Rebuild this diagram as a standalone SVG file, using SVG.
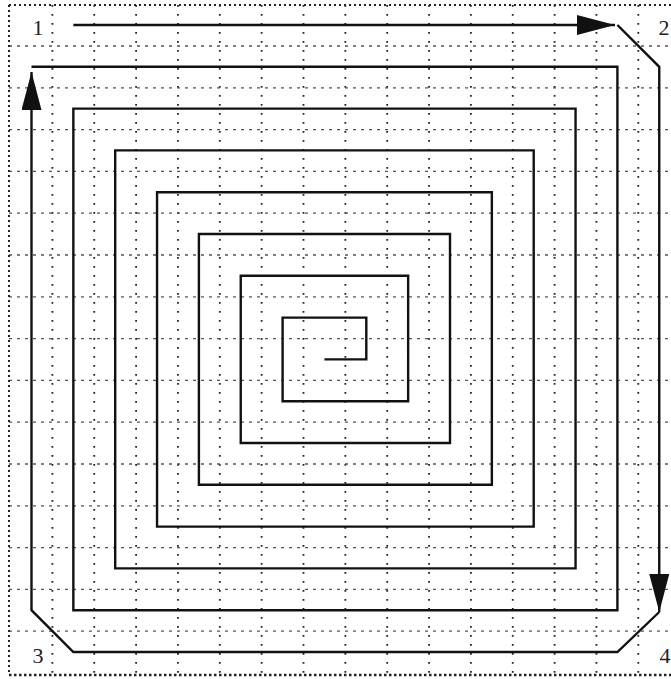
<svg xmlns="http://www.w3.org/2000/svg" width="671" height="679" viewBox="0 0 671 679">
<style>
.vg{stroke:#222;stroke-width:1.8;stroke-dasharray:1.8 7.2;fill:none}
.hg{stroke:#555;stroke-width:1.3;stroke-dasharray:3 5;fill:none}
.bd{stroke:#222;stroke-width:2;stroke-dasharray:2 3;fill:none}
.sp{stroke:#111;stroke-width:2.4;fill:none;stroke-linejoin:miter}
.lb{font-family:"Liberation Serif","Times New Roman",serif;font-size:22px;fill:#222;text-anchor:middle}
</style>
<defs>
<marker id="ah" markerUnits="userSpaceOnUse" markerWidth="42" markerHeight="22" refX="38" refY="10" orient="auto">
<path d="M0,0 L38,10 L0,20 Z" fill="#111"/>
</marker>
</defs>
<rect width="671" height="679" fill="#fff"/>
<g id="grid">
<path class="vg" d="M52.4,5V675M94.25,5V675M136.1,5V675M177.95,5V675M219.8,5V675M261.65,5V675M303.5,5V675M345.35,5V675M387.2,5V675M429.05,5V675M470.9,5V675M512.75,5V675M554.6,5V675M596.45,5V675M638.3,5V675"/>
<path class="hg" d="M9,46H671M9,87.8H671M9,129.6H671M9,171.4H671M9,213.2H671M9,255H671M9,296.8H671M9,338.6H671M9,380.4H671M9,422.2H671M9,464H671M9,505.8H671M9,547.6H671M9,589.4H671M9,631.2H671"/>
<path class="bd" d="M9,5V675M9,5H671"/>
<path class="bd" style="stroke-dasharray:2.5 2.5;stroke-width:2.5" d="M9,675H671"/>
</g>
<g id="connectors">
<path class="sp" d="M73.35,25H615" marker-end="url(#ah)"/>
<path class="sp" d="M617.4,25L659.25,66.8V612" marker-end="url(#ah)"/>
<path class="sp" d="M659.25,612L617.4,652H73.35L31.5,610.2V72" marker-end="url(#ah)"/>
<path class="sp" d="M324.45,359.4H366.3V317.6H282.6V401.2H408.15V275.8H240.75V443H450V234H198.9V484.8H491.85V192.2H157.05V526.6H533.7V150.4H115.2V568.4H575.55V108.6H73.35V610.2H617.4V66.8H31.5"/>
</g>
<g id="label-1"><text class="lb" x="38" y="35">1</text></g>
<g id="label-2"><text class="lb" x="664" y="35">2</text></g>
<g id="label-3"><text class="lb" x="38" y="663">3</text></g>
<g id="label-4"><text class="lb" x="665" y="663">4</text></g>
</svg>
